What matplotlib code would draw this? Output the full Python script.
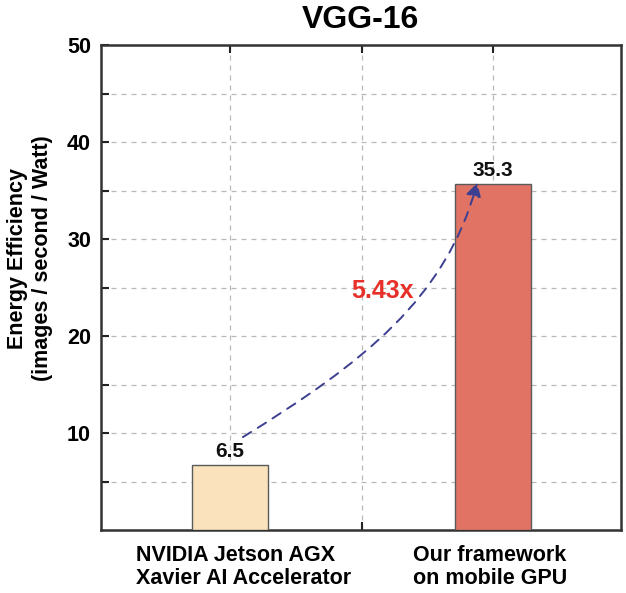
import matplotlib
matplotlib.use("Agg")
import matplotlib.pyplot as plt
from matplotlib.patches import FancyArrowPatch
from matplotlib.path import Path

# data
categories = ["NVIDIA Jetson AGX\nXavier AI Accelerator", "Our framework\non mobile GPU"]
values = [6.7, 35.7]
value_labels = ["6.5", "35.3"]
speedup_label = "5.43x"
bar_colors = ["#F9E2BC", "#E07363"]

plt.rcParams['font.family'] = ['Liberation Sans', 'DejaVu Sans']
plt.rcParams['font.weight'] = 'bold'

fig = plt.figure(figsize=(6.26, 5.93), dpi=100)
ax = fig.add_axes([0.161, 0.106, 0.831, 0.818])

xpos = [1, 3]
ax.bar(xpos, values, width=0.58, color=bar_colors, edgecolor="#5a5a5a", linewidth=1.0, zorder=3)

for x, v, lab in zip(xpos, values, value_labels):
    ax.text(x, v + 0.4, lab, ha='center', va='bottom', fontsize=15, fontweight='bold', color='#111111', zorder=5)

ax.set_xlim(0.02, 3.97)
ax.set_ylim(0, 50)
# tick marks + vertical grid on minor ticks, labels on major ticks (first label is off-centre in the original)
ax.set_xticks([1, 2, 3], minor=True)
ax.set_xticks([1.107, 2.98])
ax.set_xticklabels(categories, fontsize=15.5, fontweight='bold', multialignment='left', linespacing=1.1)
ax.set_yticks(range(5, 51, 5))
ax.set_yticklabels(["" if t % 10 else str(t) for t in range(5, 51, 5)], fontsize=15.5, fontweight='bold')
ax.tick_params(direction='in', length=6, width=1.5, top=True, right=False, color='#222222', pad=7)
ax.tick_params(axis='x', which='major', length=0, pad=11)
ax.tick_params(axis='x', which='minor', direction='in', length=6, width=1.5, top=True, color='#222222')
ax.grid(True, axis='y', which='major', linestyle=(0, (4, 4)), color='#b8b8b8', linewidth=0.9, zorder=0)
ax.grid(True, axis='x', which='minor', linestyle=(0, (4, 4)), color='#b8b8b8', linewidth=0.9, zorder=0)
for s in ax.spines.values():
    s.set_linewidth(1.8)
    s.set_color('#333333')

ax.set_ylabel("Energy Efficiency\n(images / second / Watt)", fontsize=15.5, fontweight='bold',
              va='center', linespacing=1.25)
ax.yaxis.set_label_coords(-0.136, 0.561)
ax.set_title("VGG-16", fontsize=23, fontweight='bold', pad=12)

# curved dashed arrow from the small bar to the tall bar
curve = Path([(1.099, 9.59), (2.011, 17.26), (2.640, 23.84), (2.878, 35.8)],
             [Path.MOVETO, Path.CURVE4, Path.CURVE4, Path.CURVE4])
arrow = FancyArrowPatch(path=curve, arrowstyle='-|>,head_length=8,head_width=4.5', color='#3d3f90',
                        linestyle=(0, (5, 4)), linewidth=1.4, zorder=6, transform=ax.transData)
ax.add_patch(arrow)
ax.text(2.16, 24.7, speedup_label, ha='center', va='center', fontsize=18, fontweight='bold', color='#E8302A', zorder=6)

fig.savefig("out.png", dpi=100)
